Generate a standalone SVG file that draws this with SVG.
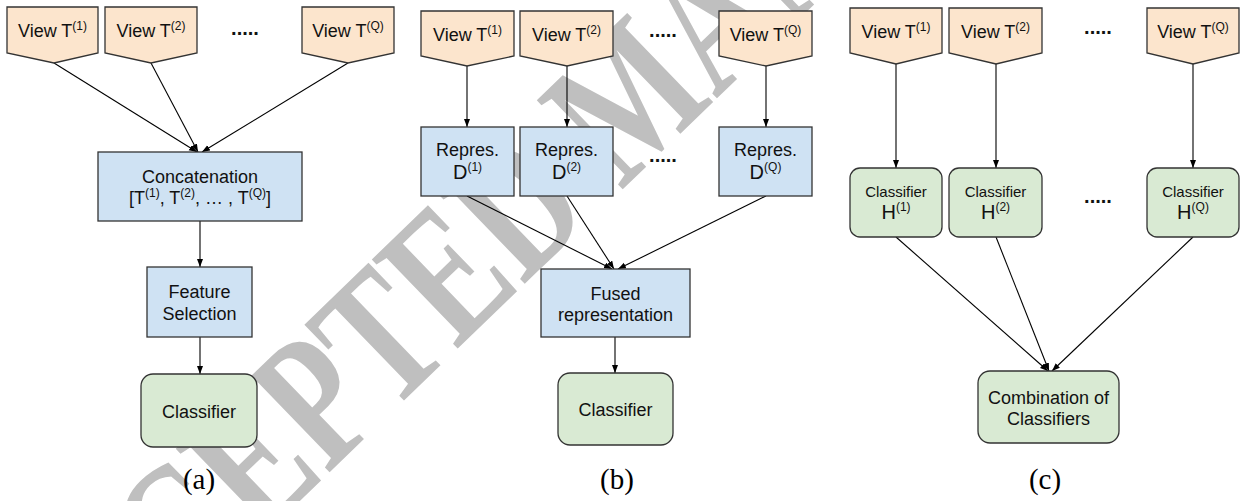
<svg xmlns="http://www.w3.org/2000/svg" width="1242" height="501" viewBox="0 0 1242 501">
<style>
.view{fill:#fce5cd;stroke:#333;stroke-width:1.3}
.rep{fill:#cfe2f3;stroke:#333;stroke-width:1.3}
.cls{fill:#d9ead3;stroke:#333;stroke-width:1.3}
.t{font-family:"Liberation Sans",Arial,sans-serif;font-size:18px;fill:#111;text-anchor:middle}
.s15{font-size:15px}
.s20{font-size:20px}
.sup{font-size:12px}
.dots{font-family:"Liberation Sans",Arial,sans-serif;font-size:20px;font-weight:bold;fill:#111;text-anchor:middle}
.cap{font-family:"Liberation Serif","Times New Roman",serif;font-size:29px;fill:#000;text-anchor:middle}
.wm{font-family:"Liberation Serif","Times New Roman",serif;font-size:140px;font-weight:bold;fill:#bfbfbf}
.edge{stroke:#000;stroke-width:1.1;fill:none;marker-end:url(#ah)}
</style>
<defs>
<marker id="ah" markerUnits="userSpaceOnUse" markerWidth="9" markerHeight="7" refX="8" refY="3" orient="auto">
<path d="M0,0 L8,3 L0,6 z" fill="#000"/>
</marker>
</defs>
<rect width="1242" height="501" fill="#fff"/>
<g id="watermark"><text class="wm" transform="translate(515,205) rotate(-44) scale(1,1.35)" x="-719" y="47">ACCEPTED MANUSCRIPT</text></g>

<g id="connectors">
<line class="edge" x1="54" y1="63" x2="197" y2="152"/>
<line class="edge" x1="151" y1="63" x2="198" y2="152"/>
<line class="edge" x1="348" y1="63" x2="202" y2="152"/>
<line class="edge" x1="200" y1="221" x2="200" y2="267"/>
<line class="edge" x1="200" y1="337" x2="200" y2="374"/>
<line class="edge" x1="467" y1="66" x2="467" y2="127"/>
<line class="edge" x1="567" y1="66" x2="567" y2="127"/>
<line class="edge" x1="766" y1="66" x2="766" y2="127"/>
<line class="edge" x1="467" y1="196" x2="612" y2="269"/>
<line class="edge" x1="567" y1="196" x2="614" y2="269"/>
<line class="edge" x1="766" y1="196" x2="618" y2="269"/>
<line class="edge" x1="615" y1="337" x2="615" y2="373"/>
<line class="edge" x1="896" y1="64" x2="896" y2="168"/>
<line class="edge" x1="996" y1="64" x2="996" y2="168"/>
<line class="edge" x1="1193" y1="64" x2="1193" y2="168"/>
<line class="edge" x1="896" y1="237" x2="1048" y2="371"/>
<line class="edge" x1="996" y1="237" x2="1049" y2="371"/>
<line class="edge" x1="1193" y1="237" x2="1052" y2="371"/>
</g>

<!-- Panel (a) -->
<g id="a-view1"><polygon class="view" points="7,7 98,7 98,53 54,63 7,53"/><text class="t" x="52.5" y="37">View T<tspan class="sup" dy="-7">(1)</tspan></text></g>
<g id="a-view2"><polygon class="view" points="105,7 197,7 197,53 151,63 105,53"/><text class="t" x="151" y="37">View T<tspan class="sup" dy="-7">(2)</tspan></text></g>
<g id="a-dots"><text class="dots" x="245" y="35">.....</text></g>
<g id="a-viewQ"><polygon class="view" points="302,7 394,7 394,53 348,63 302,53"/><text class="t" x="348" y="37">View T<tspan class="sup" dy="-7">(Q)</tspan></text></g>
<g id="a-concat"><rect class="rep" x="98" y="152" width="204" height="69"/><text class="t" x="200" y="182.5">Concatenation</text><text class="t" x="200" y="204">[T<tspan class="sup" dy="-7">(1)</tspan><tspan dy="7">, T</tspan><tspan class="sup" dy="-7">(2)</tspan><tspan dy="7">, … , T</tspan><tspan class="sup" dy="-7">(Q)</tspan><tspan dy="7">]</tspan></text></g>
<g id="a-feature"><rect class="rep" x="147" y="267" width="105" height="70"/><text class="t" x="199.5" y="298">Feature</text><text class="t" x="199.5" y="320">Selection</text></g>
<g id="a-classifier"><rect class="cls" x="141" y="374" width="116" height="73" rx="12"/><text class="t" x="199" y="418">Classifier</text></g>
<text class="cap" x="199" y="489">(a)</text>

<!-- Panel (b) -->
<g id="b-view1"><polygon class="view" points="421,11 514,11 514,56 467,66 421,56"/><text class="t" x="467.5" y="41">View T<tspan class="sup" dy="-7">(1)</tspan></text></g>
<g id="b-view2"><polygon class="view" points="520,11 613,11 613,56 567,66 520,56"/><text class="t" x="566.5" y="41">View T<tspan class="sup" dy="-7">(2)</tspan></text></g>
<g id="b-dots1"><text class="dots" x="663" y="37">.....</text></g>
<g id="b-viewQ"><polygon class="view" points="719,11 812,11 812,56 766,66 719,56"/><text class="t" x="765.5" y="41">View T<tspan class="sup" dy="-7">(Q)</tspan></text></g>
<g id="b-rep1"><rect class="rep" x="421" y="127" width="93" height="69"/><text class="t" x="467.5" y="156">Repres.</text><text class="t s20" x="467.5" y="179">D<tspan class="sup" dy="-8">(1)</tspan></text></g>
<g id="b-rep2"><rect class="rep" x="520" y="127" width="93" height="69"/><text class="t" x="566.5" y="156">Repres.</text><text class="t s20" x="566.5" y="179">D<tspan class="sup" dy="-8">(2)</tspan></text></g>
<g id="b-dots2"><text class="dots" x="663" y="162">.....</text></g>
<g id="b-repQ"><rect class="rep" x="719" y="127" width="93" height="69"/><text class="t" x="765.5" y="156">Repres.</text><text class="t s20" x="765.5" y="179">D<tspan class="sup" dy="-8">(Q)</tspan></text></g>
<g id="b-fused"><rect class="rep" x="541" y="269" width="149" height="68"/><text class="t" x="615.5" y="300">Fused</text><text class="t" x="615.5" y="321">representation</text></g>
<g id="b-classifier"><rect class="cls" x="558" y="373" width="115" height="72" rx="12"/><text class="t" x="615.5" y="416">Classifier</text></g>
<text class="cap" x="617" y="489">(b)</text>

<!-- Panel (c) -->
<g id="c-view1"><polygon class="view" points="850,8 942,8 942,53 896,64 850,53"/><text class="t" x="896" y="38">View T<tspan class="sup" dy="-7">(1)</tspan></text></g>
<g id="c-view2"><polygon class="view" points="949,8 1042,8 1042,53 996,64 949,53"/><text class="t" x="995.5" y="38">View T<tspan class="sup" dy="-7">(2)</tspan></text></g>
<g id="c-dots1"><text class="dots" x="1098" y="34">.....</text></g>
<g id="c-viewQ"><polygon class="view" points="1147,8 1239,8 1239,53 1193,64 1147,53"/><text class="t" x="1193" y="38">View T<tspan class="sup" dy="-7">(Q)</tspan></text></g>
<g id="c-h1"><rect class="cls" x="850" y="168" width="92" height="69" rx="10"/><text class="t s15" x="896" y="197">Classifier</text><text class="t s20" x="896" y="219">H<tspan class="sup" dy="-8">(1)</tspan></text></g>
<g id="c-h2"><rect class="cls" x="949" y="168" width="93" height="69" rx="10"/><text class="t s15" x="995.5" y="197">Classifier</text><text class="t s20" x="995.5" y="219">H<tspan class="sup" dy="-8">(2)</tspan></text></g>
<g id="c-dots2"><text class="dots" x="1098" y="203">.....</text></g>
<g id="c-hQ"><rect class="cls" x="1147" y="168" width="92" height="69" rx="10"/><text class="t s15" x="1193" y="197">Classifier</text><text class="t s20" x="1193" y="219">H<tspan class="sup" dy="-8">(Q)</tspan></text></g>
<g id="c-comb"><rect class="cls" x="978" y="371" width="141" height="72" rx="12"/><text class="t" x="1048.5" y="404">Combination of</text><text class="t" x="1048.5" y="425">Classifiers</text></g>
<text class="cap" x="1045" y="489">(c)</text>
</svg>
